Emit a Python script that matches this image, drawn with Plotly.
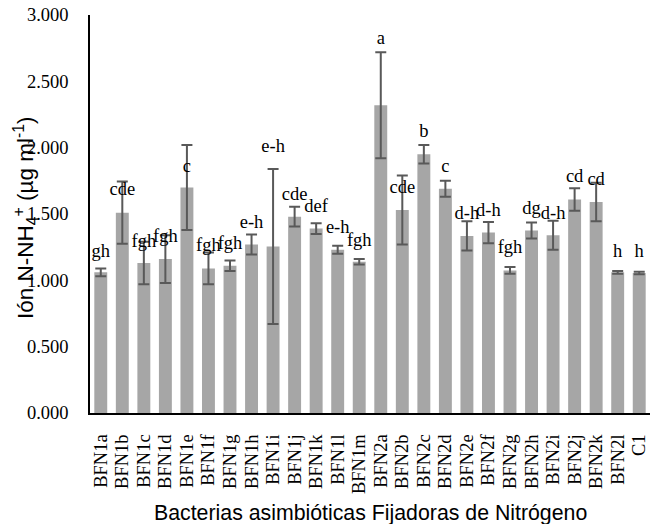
import plotly.graph_objects as go

categories = ["BFN1a", "BFN1b", "BFN1c", "BFN1d", "BFN1e", "BFN1f", "BFN1g", "BFN1h",
              "BFN1i", "BFN1j", "BFN1k", "BFN1l", "BFN1m", "BFN2a", "BFN2b", "BFN2c",
              "BFN2d", "BFN2e", "BFN2f", "BFN2g", "BFN2h", "BFN2i", "BFN2j", "BFN2k",
              "BFN2l", "C1"]
means = [1.06, 1.51, 1.13, 1.16, 1.70, 1.09, 1.11, 1.27,
         1.255, 1.48, 1.39, 1.23, 1.14, 2.32, 1.53, 1.95,
         1.69, 1.335, 1.36, 1.075, 1.375, 1.34, 1.61, 1.59,
         1.06, 1.055]
errors = [0.03, 0.235, 0.16, 0.18, 0.32, 0.12, 0.04, 0.075,
          0.585, 0.075, 0.04, 0.03, 0.02, 0.40, 0.26, 0.07,
          0.06, 0.11, 0.08, 0.025, 0.06, 0.11, 0.085, 0.145,
          0.01, 0.01]
letters = ["gh", "cde", "fgh", "fgh", "c", "fgh", "fgh", "e-h",
           "e-h", "cde", "def", "e-h", "fgh", "a", "cde", "b",
           "c", "d-h", "d-h", "fgh", "dg", "d-h", "cd", "cd",
           "h", "h"]
letter_y = [1.212, 1.675, 1.287, 1.325, 1.855, 1.255, 1.268, 1.43,
            2.0, 1.638, 1.55, 1.392, 1.29, 2.813, 1.692, 2.112,
            1.855, 1.50, 1.52, 1.238, 1.533, 1.50, 1.775, 1.75,
            1.208, 1.208]
y_ticks = [0, 0.5, 1.0, 1.5, 2.0, 2.5, 3.0]

serif = "Liberation Serif"
sans = "Liberation Sans"

fig = go.Figure()
fig.add_trace(go.Bar(
    x=categories, y=means, width=0.6,
    marker=dict(color="#A6A6A6", line=dict(width=0)),
    error_y=dict(type="data", array=errors, visible=True,
                 color="#595959", thickness=2, width=5.5),
    hoverinfo="x+y",
))
fig.add_trace(go.Scatter(
    x=categories, y=letter_y, mode="text", text=letters,
    textposition="middle center",
    textfont=dict(family=serif, size=18.5, color="black"),
    hoverinfo="skip", showlegend=False,
))

fig.update_layout(
    width=650, height=524,
    margin=dict(l=90, r=0, t=15, b=111),
    plot_bgcolor="white", paper_bgcolor="white",
    showlegend=False,
    bargap=0.4,
    xaxis=dict(
        type="category", range=[-0.5, 25.5],
        tickmode="array", tickvals=categories, ticktext=categories,
        showline=True, linecolor="black", linewidth=2,
        ticks="", tickangle=-90,
        tickfont=dict(family=serif, size=18.5, color="black"),
        ticklabelstandoff=12,
        showgrid=False, zeroline=False,
    ),
    yaxis=dict(
        range=[0, 3], tickvals=y_ticks, tickformat=".3f",
        showline=True, linecolor="black", linewidth=1.5,
        ticks="", ticklabelstandoff=16,
        tickfont=dict(family=serif, size=18.5, color="black"),
        showgrid=False, zeroline=False,
    ),
    annotations=[
        dict(text="Bacterias asimbióticas Fijadoras de Nitrógeno",
             xref="paper", yref="paper", x=0.5, y=0, yshift=-100,
             xanchor="center", yanchor="middle", showarrow=False,
             font=dict(family=sans, size=21.3, color="black")),
        dict(text="Ión N-NH<sub>4</sub><sup>+</sup> (µg ml<sup>-1</sup>)",
             xref="paper", yref="paper", x=0, xshift=-65, y=0.5, yshift=-4,
             xanchor="center", yanchor="middle", textangle=-90, showarrow=False,
             font=dict(family=sans, size=22.5, color="black")),
    ],
)

fig.write_html("out.html")
